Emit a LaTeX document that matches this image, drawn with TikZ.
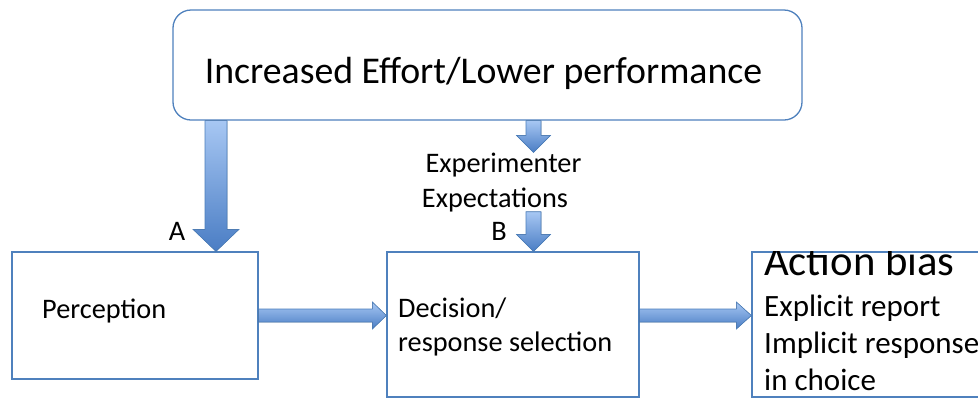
\documentclass[tikz,border=0pt]{standalone}
\usepackage{fontspec}
\setmainfont{Carlito}
\usetikzlibrary{calc,positioning}

\definecolor{boxblue}{HTML}{4F81BD}
\definecolor{arrowtop}{HTML}{A7C7F3}
\definecolor{arrowbot}{HTML}{4A7DC4}
\definecolor{arrowedge}{HTML}{4A7EBB}

% block arrow: from, to, half shaft, half head, head length
\newcommand{\blockarrow}[5]{%
  \coordinate (ba-h) at ($(#2)!#5!(#1)$);
  \filldraw[arrowfill] ($(#1)!#3!90:(#2)$) -- ($(ba-h)!#3!90:(#2)$)
    -- ($(ba-h)!#4!90:(#2)$) -- (#2) -- ($(ba-h)!#4!-90:(#2)$)
    -- ($(ba-h)!#3!-90:(#2)$) -- ($(#1)!#3!-90:(#2)$) -- cycle;}

\begin{document}
\begin{tikzpicture}[x=1pt,y=-1pt,
    box/.style={draw=boxblue,line width=1.3pt,fill=white,inner sep=0pt},
    lbl/.style={font=\fontsize{28.3}{34}\selectfont,inner sep=0pt},
    arrowfill/.style={draw=arrowedge,line width=0.6pt,top color=arrowtop,bottom color=arrowbot}]

    \useasboundingbox (0,0) rectangle (978,400);

    \node[box,rounded corners=18pt,minimum width=629pt,minimum height=110pt] (top) at (487.5,65) {};
    \node[lbl,font=\fontsize{37.8}{44}\selectfont,anchor=base] (topL) at (483.5,83) {Increased Effort/Lower performance};

    \node[box,minimum width=246pt,minimum height=127pt] (perc) at (135,315.5) {};
    \node[box,minimum width=252pt,minimum height=145pt] (dec) at (513,324.5) {};
    \node[box,minimum width=260pt,minimum height=145pt] (act) at (882,324.5) {};

    % base of a multi-line node is its last line
    \node[lbl,anchor=base west] (percL) at (42,318) {Perception};
    \node[lbl,align=left,anchor=base west] (decL) at (398,351) {Decision/\\response selection};

    \begin{scope}
        \clip (act.north west) rectangle (act.south east);
        \node[lbl,font=\fontsize{31}{37}\selectfont,align=left,anchor=base west] (actL) at (764,390)
            {{\fontsize{42.7}{44}\selectfont Action bias}\\[4pt]Explicit report\\Implicit response\\in choice};
    \end{scope}

    \node[lbl,anchor=base] (expA) at (503.5,172) {Experimenter};
    \node[lbl,anchor=base] (expB) at (495,207) {Expectations};
    \node[lbl,anchor=base] (labA) at (177,240) {A};
    \node[lbl,anchor=base] (labB) at (499,240) {B};

    % arrow ends
    \coordinate (aEnd) at ([xshift=81pt]perc.north);
    \coordinate (bEnd) at ([xshift=20.5pt]dec.north);
    \coordinate (bMid) at (expA.north -| bEnd);
    \coordinate (bStart) at (expB.south -| bEnd);

    \blockarrow{top.south -| aEnd}{aEnd}{11pt}{23pt}{22pt}
    \blockarrow{top.south -| bEnd}{bMid}{7.5pt}{17pt}{17pt}
    \blockarrow{bStart}{bEnd}{7.5pt}{17pt}{17pt}
    \blockarrow{perc.east}{perc.east -| dec.west}{6.5pt}{13.5pt}{14pt}
    \blockarrow{dec.east |- perc.east}{perc.east -| act.west}{6.5pt}{13.5pt}{15pt}

\end{tikzpicture}
\end{document}
